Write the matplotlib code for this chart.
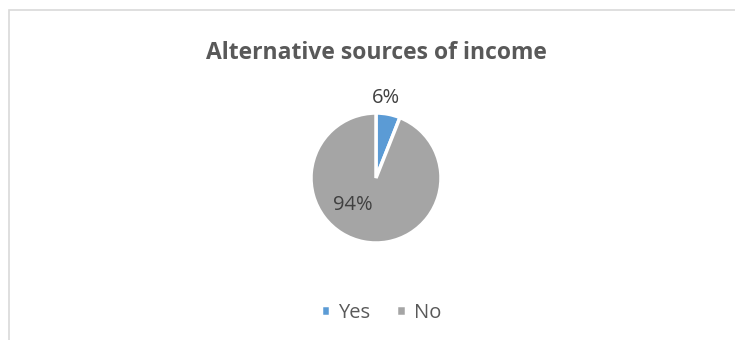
import matplotlib
matplotlib.use("Agg")
import matplotlib.pyplot as plt
from matplotlib.patches import Rectangle

categories = ["Yes", "No"]
values = [6, 94]
colors = ["#5B9BD5", "#A5A5A5"]
title = "Alternative sources of income"

W, H = 735, 340
fig = plt.figure(figsize=(W / 100, H / 100), dpi=100)
plt.rcParams['font.family'] = ['Open Sans', 'DejaVu Sans']

# chart frame (light gray border, cut at right/bottom)
fig.add_artist(Rectangle((8.5 / W, -0.1), 1.2, (H - 9.5) / H + 0.1,
                         transform=fig.transFigure, fill=False,
                         edgecolor="#D9D9D9", linewidth=1.2))

fig.text(376 / W, 1 - 53 / H, title, ha="center", va="center",
         fontsize=16.5, fontweight="bold", color="#595959")

cx, cy, r = 376, 178, 65
ax = fig.add_axes([(cx - r) / W, (H - cy - r) / H, 2 * r / W, 2 * r / H])
wedges, _ = ax.pie(values, colors=colors, startangle=90, counterclock=False,
                   radius=1, wedgeprops=dict(edgecolor="white", linewidth=2.5))
ax.set_xlim(-1, 1)
ax.set_ylim(-1, 1)
ax.set_aspect("equal")
ax.axis("off")

label_pos = [(0.16, 1.23), (-0.36, -0.42)]
for v, (lx, ly) in zip(values, label_pos):
    ax.text(lx, ly, f"{v}%", ha="center", va="center", fontsize=14.5,
            color="#404040", clip_on=False)

leg = fig.legend(wedges, categories, loc="center", bbox_to_anchor=(381 / W, 1 - 313 / H),
                 ncol=2, frameon=False, fontsize=14.5, handlelength=0.45, handleheight=0.45,
                 handletextpad=0.4, columnspacing=1.3, labelcolor="#595959")

fig.savefig("out.png", dpi=100, facecolor="white")
